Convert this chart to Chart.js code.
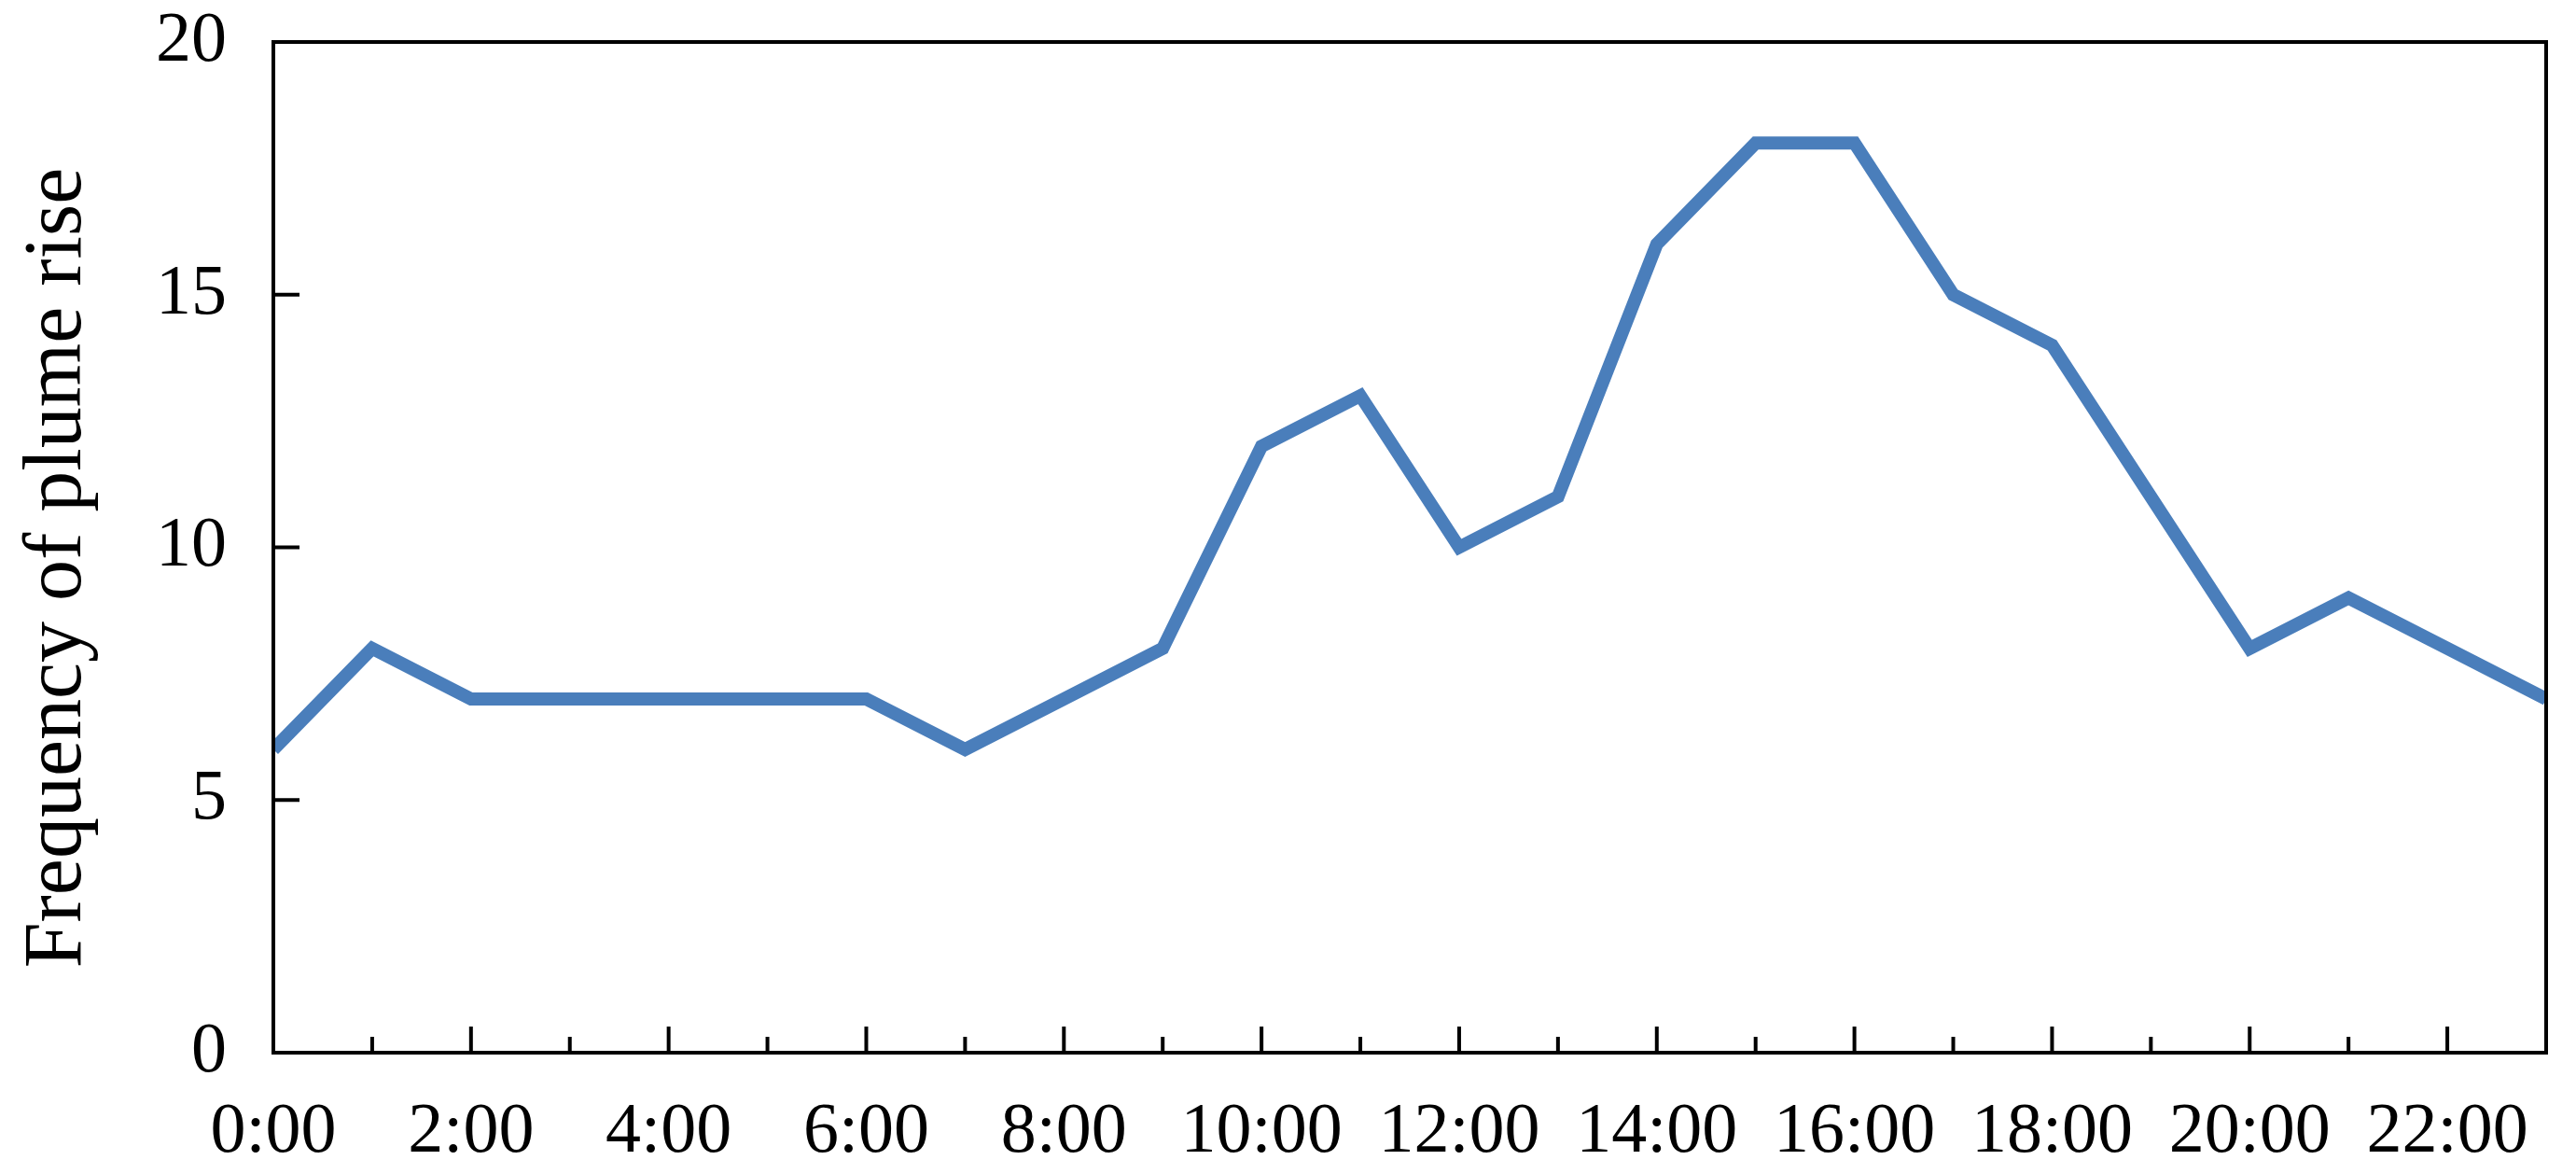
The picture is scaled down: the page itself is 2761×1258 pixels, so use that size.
<!DOCTYPE html>
<html>
<head>
<meta charset="utf-8">
<script src="https://cdn.jsdelivr.net/npm/chart.js@4.4.1/dist/chart.umd.min.js"></script>
<style>
  html, body { margin: 0; padding: 0; background: #ffffff; }
  canvas { display: block; }
</style>
</head>
<body>
<canvas id="plumeChart" width="2761" height="1258"></canvas>
<script>
// hourly data
const hours = ['0:00', '1:00', '2:00', '3:00', '4:00', '5:00', '6:00', '7:00', '8:00', '9:00', '10:00', '11:00',
               '12:00', '13:00', '14:00', '15:00', '16:00', '17:00', '18:00', '19:00', '20:00', '21:00', '22:00', '23:00'];
const frequency = [6, 8, 7, 7, 7, 7, 7, 6, 7, 8, 12, 13, 10, 11, 16, 18, 18, 15, 14, 11, 8, 9, 8, 7];
const yTicks = [0, 5, 10, 15, 20];
const yTitle = 'Frequency of plume rise';

const serif = "'Liberation Serif', 'Times New Roman', serif";

// frame + inward tick marks, drawn on top of the line like in the original
const frameTicks = {
    id: 'frameTicks',
    afterDatasetsDraw(chart) {
        const ctx = chart.ctx;
        const area = chart.chartArea;
        const xs = chart.scales.x;
        const ys = chart.scales.y;
        ctx.save();
        ctx.strokeStyle = '#000000';
        ctx.lineWidth = 4;
        ctx.lineCap = 'butt';
        ctx.beginPath();
        for (let i = 1; i < hours.length - 1; i++) {
            const px = xs.getPixelForValue(i);
            const len = (i % 2 === 0) ? 28 : 17;
            ctx.moveTo(px, area.bottom);
            ctx.lineTo(px, area.bottom - len);
        }
        yTicks.forEach(function (v) {
            const py = ys.getPixelForValue(v);
            ctx.moveTo(area.left, py);
            ctx.lineTo(area.left + 28, py);
        });
        ctx.stroke();
        ctx.strokeRect(area.left, area.top, area.right - area.left, area.bottom - area.top);

        // y axis title, sits a little below the plot centre in the original
        ctx.fillStyle = '#000000';
        ctx.font = '88px ' + serif;
        ctx.textAlign = 'center';
        ctx.textBaseline = 'alphabetic';
        ctx.translate(86, (area.top + area.bottom) / 2 + 22);
        ctx.rotate(-Math.PI / 2);
        ctx.fillText(yTitle, 0, 0);
        ctx.restore();
    }
};

const ctx = document.getElementById('plumeChart').getContext('2d');
new Chart(ctx, {
    type: 'line',
    data: {
        labels: hours,
        datasets: [{
            data: frequency,
            borderColor: '#4a7ebb',
            backgroundColor: 'transparent',
            borderWidth: 14,
            pointRadius: 0,
            tension: 0,
            clip: 0
        }]
    },
    options: {
        responsive: false,
        animation: false,
        layout: { padding: { left: 0, top: 45, right: 32, bottom: 0 } },
        plugins: {
            legend: { display: false },
            tooltip: { enabled: false }
        },
        scales: {
            x: {
                type: 'category',
                offset: false,
                grid: { display: false, drawTicks: false },
                border: { display: false },
                ticks: {
                    autoSkip: false,
                    maxRotation: 0,
                    padding: 40,
                    color: '#000000',
                    font: { family: serif, size: 76 },
                    callback: function (val, index) {
                        return index % 2 === 0 ? hours[index] : '';
                    }
                },
                afterFit: function (scale) {
                    scale.height = 130;
                    scale.paddingLeft = 0;
                    scale.paddingRight = 0;
                }
            },
            y: {
                min: 0,
                max: 20,
                grid: { display: false, drawTicks: false },
                border: { display: false },
                ticks: {
                    stepSize: 5,
                    padding: 50,
                    color: '#000000',
                    font: { family: serif, size: 76 }
                },
                afterFit: function (scale) {
                    scale.width = 293;
                    scale.paddingTop = 0;
                    scale.paddingBottom = 0;
                }
            }
        }
    },
    plugins: [frameTicks]
});
</script>
</body>
</html>
